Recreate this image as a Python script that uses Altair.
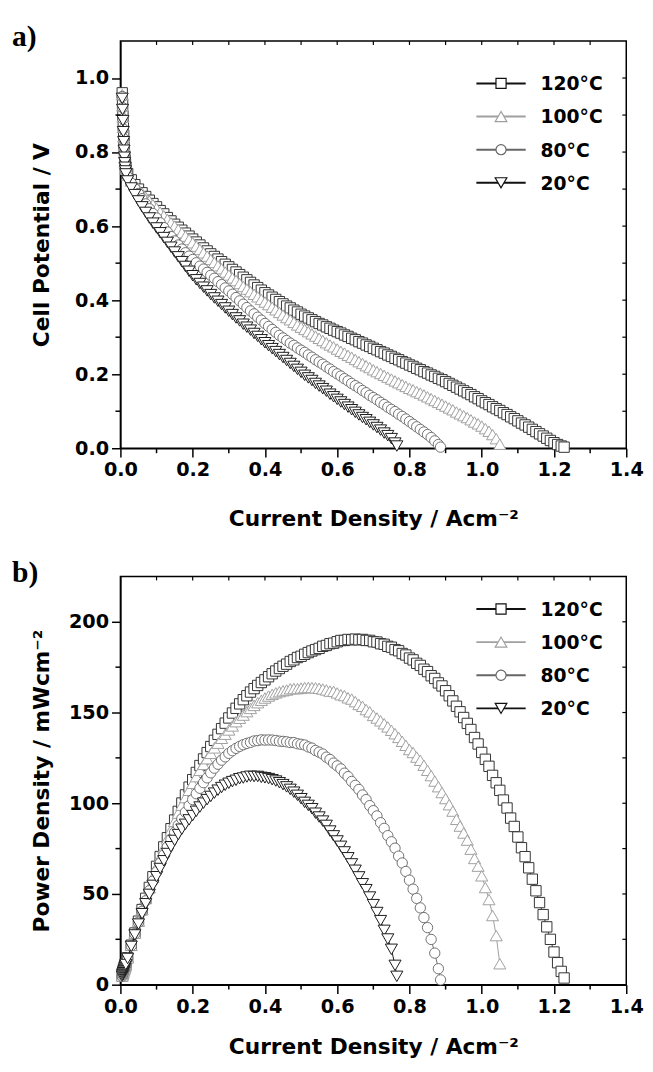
import altair as alt
import pandas as pd

# ------------------------------------------------------------------
# Data
# ------------------------------------------------------------------
LABELS = ["120°C", "100°C", "80°C", "20°C"]

# current density grid (A cm^-2) shared by the polarisation curves
CURRENT_GRID = [
    0.005, 0.006, 0.007, 0.008, 0.009, 0.010, 0.011, 0.012, 0.013, 0.014, 0.015,
    0.02, 0.03, 0.04, 0.05, 0.06, 0.07, 0.08, 0.09, 0.10,
    0.11, 0.12, 0.13, 0.14, 0.15, 0.16, 0.17, 0.18, 0.19, 0.20,
    0.21, 0.22, 0.23, 0.24, 0.25, 0.26, 0.27, 0.28, 0.29, 0.30,
    0.31, 0.32, 0.33, 0.34, 0.35, 0.36, 0.37, 0.38, 0.39, 0.40,
    0.41, 0.42, 0.43, 0.44, 0.45, 0.46, 0.47, 0.48, 0.49, 0.50,
    0.51, 0.52, 0.53, 0.54, 0.55, 0.56, 0.57, 0.58, 0.59, 0.60,
    0.61, 0.62, 0.63, 0.64, 0.65, 0.66, 0.67, 0.68, 0.69, 0.70,
    0.71, 0.72, 0.73, 0.74, 0.75, 0.76, 0.77, 0.78, 0.79, 0.80,
    0.81, 0.82, 0.83, 0.84, 0.85, 0.86, 0.87, 0.88, 0.89, 0.90,
    0.91, 0.92, 0.93, 0.94, 0.95, 0.96, 0.97, 0.98, 0.99, 1.00,
    1.01, 1.02, 1.03, 1.04, 1.05, 1.06, 1.07, 1.08, 1.09, 1.10,
    1.11, 1.12, 1.13, 1.14, 1.15, 1.16, 1.17, 1.18, 1.19, 1.20,
    1.21, 1.22,
]

# cell potential (V) at the grid points
V_120 = [
    0.960, 0.930, 0.900, 0.872, 0.846, 0.823, 0.804, 0.789, 0.777, 0.767, 0.759,
    0.742, 0.725, 0.712, 0.700, 0.690, 0.680, 0.670, 0.661, 0.652,
    0.642, 0.633, 0.623, 0.614, 0.605, 0.597, 0.589, 0.581, 0.573, 0.565,
    0.557, 0.549, 0.541, 0.533, 0.525, 0.518, 0.511, 0.504, 0.497, 0.490,
    0.483, 0.476, 0.469, 0.462, 0.455, 0.448, 0.441, 0.434, 0.427, 0.420,
    0.414, 0.408, 0.402, 0.396, 0.390, 0.384, 0.379, 0.373, 0.368, 0.362,
    0.357, 0.352, 0.347, 0.342, 0.337, 0.333, 0.328, 0.324, 0.319, 0.315,
    0.311, 0.306, 0.302, 0.297, 0.293, 0.288, 0.284, 0.279, 0.275, 0.270,
    0.266, 0.261, 0.257, 0.252, 0.248, 0.243, 0.239, 0.234, 0.230, 0.225,
    0.221, 0.216, 0.212, 0.207, 0.203, 0.198, 0.194, 0.189, 0.185, 0.180,
    0.175, 0.170, 0.165, 0.160, 0.155, 0.150, 0.145, 0.139, 0.134, 0.128,
    0.123, 0.118, 0.112, 0.107, 0.102, 0.096, 0.091, 0.085, 0.080, 0.074,
    0.068, 0.063, 0.057, 0.051, 0.045, 0.039, 0.033, 0.027, 0.021, 0.015,
    0.010, 0.006,
]
V_100 = [
    0.955, 0.925, 0.895, 0.867, 0.841, 0.818, 0.799, 0.784, 0.772, 0.762, 0.754,
    0.738, 0.722, 0.710, 0.700, 0.689, 0.678, 0.668, 0.658, 0.648,
    0.638, 0.628, 0.618, 0.609, 0.600, 0.591, 0.582, 0.573, 0.564, 0.555,
    0.546, 0.537, 0.528, 0.519, 0.510, 0.502, 0.493, 0.485, 0.476, 0.468,
    0.460, 0.453, 0.445, 0.437, 0.430, 0.423, 0.416, 0.409, 0.402, 0.395,
    0.388, 0.381, 0.374, 0.367, 0.360, 0.353, 0.347, 0.340, 0.333, 0.327,
    0.321, 0.315, 0.309, 0.303, 0.297, 0.291, 0.285, 0.279, 0.274, 0.268,
    0.262, 0.257, 0.251, 0.246, 0.240, 0.234, 0.229, 0.223, 0.218, 0.212,
    0.207, 0.202, 0.197, 0.192, 0.187, 0.182, 0.177, 0.172, 0.167, 0.162,
    0.158, 0.153, 0.149, 0.144, 0.139, 0.134, 0.129, 0.124, 0.119, 0.114,
    0.109, 0.104, 0.098, 0.093, 0.088, 0.083, 0.077, 0.071, 0.066, 0.060,
    0.053, 0.046, 0.037, 0.026,
]
V_80 = [
    0.950, 0.920, 0.890, 0.862, 0.836, 0.813, 0.795, 0.780, 0.768, 0.758, 0.750,
    0.733, 0.716, 0.701, 0.688, 0.674, 0.660, 0.647, 0.634, 0.622,
    0.609, 0.596, 0.584, 0.572, 0.560, 0.549, 0.538, 0.528, 0.519, 0.510,
    0.501, 0.492, 0.484, 0.475, 0.467, 0.459, 0.450, 0.442, 0.433, 0.425,
    0.416, 0.407, 0.398, 0.389, 0.380, 0.371, 0.363, 0.354, 0.346, 0.337,
    0.329, 0.321, 0.313, 0.305, 0.298, 0.291, 0.284, 0.278, 0.271, 0.265,
    0.259, 0.252, 0.246, 0.239, 0.233, 0.227, 0.220, 0.214, 0.207, 0.201,
    0.195, 0.188, 0.182, 0.175, 0.169, 0.163, 0.156, 0.150, 0.143, 0.137,
    0.131, 0.124, 0.118, 0.111, 0.105, 0.099, 0.092, 0.086, 0.079, 0.072,
    0.065, 0.058, 0.051, 0.044, 0.037, 0.029, 0.020, 0.010,
]
V_20 = [
    0.945, 0.915, 0.885, 0.855, 0.828, 0.805, 0.786, 0.771, 0.759, 0.749, 0.741,
    0.722, 0.703, 0.685, 0.668, 0.652, 0.637, 0.622, 0.608, 0.595,
    0.582, 0.569, 0.556, 0.543, 0.530, 0.517, 0.504, 0.491, 0.478, 0.466,
    0.455, 0.445, 0.435, 0.425, 0.415, 0.406, 0.397, 0.388, 0.379, 0.370,
    0.361, 0.352, 0.344, 0.335, 0.327, 0.319, 0.310, 0.302, 0.293, 0.285,
    0.277, 0.269, 0.261, 0.253, 0.245, 0.237, 0.229, 0.221, 0.213, 0.205,
    0.197, 0.190, 0.183, 0.175, 0.168, 0.161, 0.154, 0.146, 0.139, 0.132,
    0.125, 0.118, 0.111, 0.104, 0.097, 0.090, 0.083, 0.077, 0.070, 0.063,
    0.056, 0.049, 0.041, 0.034, 0.026, 0.014,
]
# last measured point of each curve
END_CURRENT = [1.228, 1.050, 0.886, 0.765]
END_POTENTIAL = [0.003, 0.011, 0.003, 0.006]

# tick positions
X_MAJOR = [0.0, 0.2, 0.4, 0.6, 0.8, 1.0, 1.2, 1.4]
X_MINOR = [0.1, 0.3, 0.5, 0.7, 0.9, 1.1, 1.3]
X_TOP = [0.1, 0.2, 0.3, 0.4, 0.5, 0.6, 0.7, 0.8, 0.9, 1.0, 1.1, 1.2, 1.3]
V_MAJOR = [0, 0.2, 0.4, 0.6, 0.8, 1.0]
V_MINOR = [0.1, 0.3, 0.5, 0.7, 0.9]
V_RIGHT = [0.1, 0.2, 0.3, 0.4, 0.5, 0.6, 0.7, 0.8, 0.9, 1.0]
P_MAJOR = [0, 50, 100, 150, 200]
P_MINOR = [25, 75, 125, 175]
P_RIGHT = [25, 50, 75, 100, 125, 150, 175, 200]

# ------------------------------------------------------------------
# Styles
# ------------------------------------------------------------------
FONT = "DejaVu Sans"
SERIF = "Liberation Serif"
STROKES = ["#333333", "#a0a0a0", "#707070", "#1a1a1a"]
LEGEND_STROKES = ["#111111", "#a0a0a0", "#666666", "#111111"]
SHAPES = ["square", "triangle-up", "circle", "triangle-down"]
SIZES = [110, 150, 110, 150]
LEGEND_SIZES = [105, 140, 105, 140]
W = 513

rows = []
for label, pot, ei, ev in zip(LABELS, [V_120, V_100, V_80, V_20], END_CURRENT, END_POTENTIAL):
    for k, v in enumerate(pot):
        rows.append({"series": label, "k": k, "I": CURRENT_GRID[k], "V": v})
    rows.append({"series": label, "k": len(pot), "I": ei, "V": ev})
data = pd.DataFrame(rows)


def panel(kind):
    if kind == "a":
        field, dom = "V", [0, 1.1]
        major, minor, inner, fmt = V_MAJOR, V_MINOR, V_RIGHT, ".1f"
        title = "Cell Potential / V"
        h, tag, tag_y, leg_y0, xt_y = 413, "a)", -19, 43, 78
    else:
        field, dom = "P", [0, 225]
        major, minor, inner, fmt = P_MAJOR, P_MINOR, P_RIGHT, "d"
        title = "Power Density / mWcm⁻²"
        h, tag, tag_y, leg_y0, xt_y = 414, "b)", -18, 33, 70

    xs = alt.Scale(domain=[0, 1.4], nice=False, zero=False)
    ys = alt.Scale(domain=dom, nice=False, zero=False)

    def src(label):
        c = alt.Chart(data).transform_filter(alt.datum.series == label)
        if field == "P":
            c = c.transform_calculate(P="datum.I * datum.V * 1000")
        return c

    def enc(c, xaxis, yaxis):
        return c.encode(
            x=alt.X("I:Q", scale=xs, axis=xaxis),
            y=alt.Y(f"{field}:Q", scale=ys, axis=yaxis),
            order=alt.Order("k:Q"),
        )

    x_main = alt.Axis(orient="bottom", values=X_MAJOR, format=".1f",
                      title="Current Density / Acm⁻²", tickSize=9, labelPadding=4,
                      labelFlush=False, labelOverlap=False, titleY=xt_y,
                      titleBaseline="alphabetic", grid=False)
    y_main = alt.Axis(orient="left", values=major, format=fmt, title=title,
                      tickSize=9, labelPadding=3, titleX=-80,
                      titleBaseline="middle", grid=False)

    layers = []
    for s, label in enumerate(LABELS):
        first = s == 0
        line = enc(src(label).mark_line(color=STROKES[s], strokeWidth=1),
                   x_main if first else None, y_main if first else None)
        pts = enc(src(label).mark_point(shape=SHAPES[s], size=SIZES[s], filled=True,
                                        fill="white", stroke=STROKES[s],
                                        strokeWidth=1, opacity=1), None, None)
        layers += [line, pts]

    # minor outward ticks (bottom / left) and short inward ticks (top / right)
    layers.append(alt.Chart(pd.DataFrame({"I": X_MINOR})).mark_rule(
        color="black", strokeWidth=1.5).encode(
        x=alt.X("I:Q", scale=xs, axis=None), y=alt.value(h), y2=alt.value(h + 5)))
    layers.append(alt.Chart(pd.DataFrame({field: minor})).mark_rule(
        color="black", strokeWidth=1.5).encode(
        y=alt.Y(f"{field}:Q", scale=ys, axis=None), x=alt.value(-5), x2=alt.value(0)))
    layers.append(alt.Chart(pd.DataFrame({"I": X_TOP})).mark_rule(
        color="black", strokeWidth=1.2).encode(
        x=alt.X("I:Q", scale=xs, axis=None), y=alt.value(0), y2=alt.value(4)))
    layers.append(alt.Chart(pd.DataFrame({field: inner})).mark_rule(
        color="black", strokeWidth=1.2).encode(
        y=alt.Y(f"{field}:Q", scale=ys, axis=None), x=alt.value(W - 4), x2=alt.value(W)))

    for s, label in enumerate(LABELS):
        yy = leg_y0 + s * 33.6
        one = pd.DataFrame({"label": [label]})
        layers.append(alt.Chart(one).mark_rule(color=LEGEND_STROKES[s], strokeWidth=2).encode(
            x=alt.value(361), x2=alt.value(411), y=alt.value(yy)))
        layers.append(alt.Chart(one).mark_point(shape=SHAPES[s], size=LEGEND_SIZES[s],
                                                filled=True, fill="white",
                                                stroke=LEGEND_STROKES[s],
                                                strokeWidth=1.2, opacity=1).encode(
            x=alt.value(386), y=alt.value(yy)))
        layers.append(alt.Chart(one).mark_text(align="left", baseline="middle", font=FONT,
                                               fontSize=19, fontWeight="bold",
                                               color="black").encode(
            x=alt.value(426), y=alt.value(yy + 1), text="label:N"))

    layers.append(alt.Chart(pd.DataFrame({"tag": [tag]})).mark_text(
        align="left", baseline="top", font=SERIF, fontSize=30, fontWeight="bold",
        color="black").encode(x=alt.value(-110), y=alt.value(tag_y), text="tag:N"))

    return alt.layer(*layers).resolve_axis(x="independent", y="independent").properties(
        width=W, height=h)


chart = alt.vconcat(panel("a"), panel("b"), spacing=28).properties(
    padding={"left": 3, "top": 6, "right": 0, "bottom": 0}
).configure_view(stroke="black", strokeWidth=1.5).configure_axis(
    domainColor="black", domainWidth=1.5, tickColor="black", tickWidth=1.5,
    labelColor="black", titleColor="black", labelFont=FONT, labelFontSize=19.5,
    labelFontWeight="bold", titleFont=FONT, titleFontSize=22, titleFontWeight="bold",
)

chart.save("out.html", embed_options={"renderer": "svg", "actions": False})
